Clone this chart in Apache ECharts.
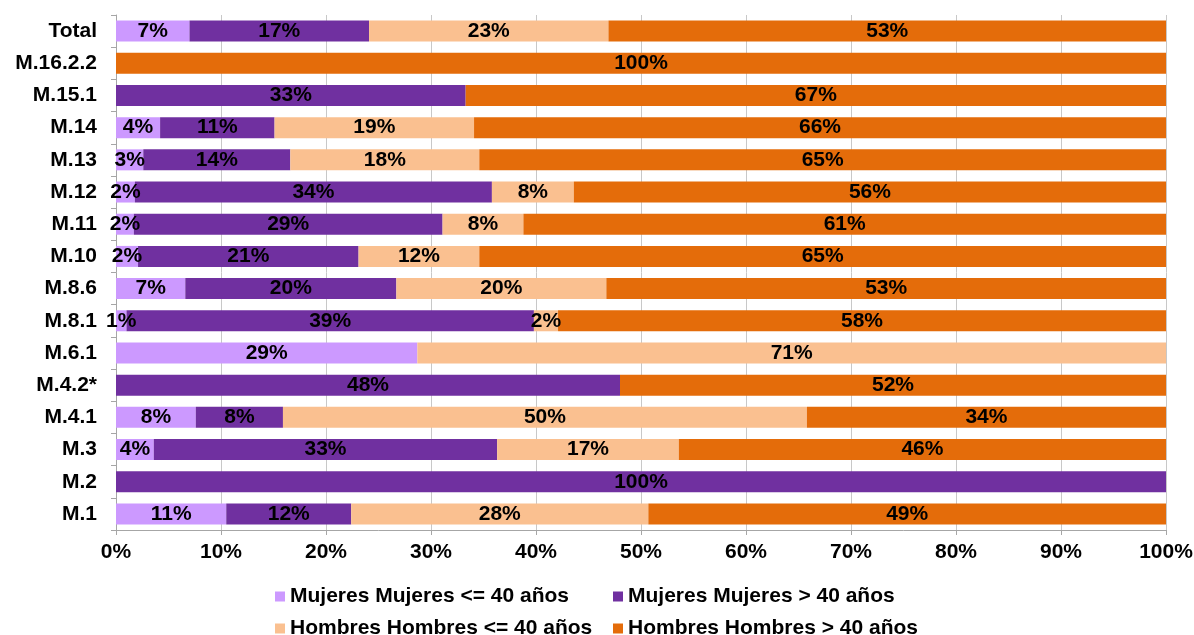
<!DOCTYPE html>
<html>
<head>
<meta charset="utf-8">
<script src="https://cdn.jsdelivr.net/npm/echarts@6/dist/echarts.min.js"></script>
<style>
  html, body { margin: 0; padding: 0; background: #fff; }
  #chart { width: 1194px; height: 635px; }
</style>
</head>
<body>
<div id="chart"></div>
<script>
// categories, bottom to top
var categories = ['M.1', 'M.2', 'M.3', 'M.4.1', 'M.4.2*', 'M.6.1', 'M.8.1', 'M.8.6',
                  'M.10', 'M.11', 'M.12', 'M.13', 'M.14', 'M.15.1', 'M.16.2.2', 'Total'];

var seriesNames = ['Mujeres Mujeres <= 40 años', 'Mujeres Mujeres > 40 años',
                   'Hombres Hombres <= 40 años', 'Hombres Hombres > 40 años'];

// shares in percent
var mujeresJovenes  = [10.5, 0,   3.6, 7.6, 0,  28.7, 1.0, 6.6, 2.1, 1.7, 1.8, 2.6, 4.2, 0,    0,   7.0];
var mujeresMayores  = [11.9, 100, 32.7, 8.3, 48, 0,   38.8, 20.1, 21.0, 29.4, 34.0, 14.0, 10.9, 33.3, 0,  17.1];
var hombresJovenes  = [28.3, 0,   17.3, 49.9, 0, 71.3, 2.3, 20.0, 11.5, 7.7, 7.8, 18.0, 19.0, 0,    0,   22.8];
var hombresMayores  = [49.3, 0,   46.4, 34.2, 52, 0,  57.9, 53.3, 65.4, 61.2, 56.4, 65.4, 65.9, 66.7, 100, 53.1];

var colors = ['#CC99FF', '#7030A0', '#FAC090', '#E46C0A'];
var values = [mujeresJovenes, mujeresMayores, hombresJovenes, hombresMayores];

var chart = echarts.init(document.getElementById('chart'));

var FONT = 'Liberation Sans, Arial, sans-serif';
var SIZE = 21;

var series = seriesNames.map(function(name, i) {
    return {
        name: name,
        type: 'bar',
        stack: 'total',
        barWidth: 21,
        data: values[i],
        itemStyle: { color: colors[i] },
        label: {
            show: true,
            position: 'inside',
            color: '#000',
            fontFamily: FONT,
            fontWeight: 'bold',
            fontSize: SIZE,
            formatter: function(p) {
                return p.value > 0 ? Math.round(p.value) + '%' : '';
            }
        }
    };
});

// one legend per entry so the two rows line up in columns
var legends = seriesNames.map(function(name, i) {
    return {
        data: [name],
        left: i % 2 === 0 ? 275 : 613,
        top: i < 2 ? 586 : 618,
        padding: 0,
        itemWidth: 10,
        itemHeight: 10,
        icon: 'rect',
        textStyle: {
            color: '#000',
            fontFamily: FONT,
            fontWeight: 'bold',
            fontSize: SIZE
        }
    };
});

var option = {
    backgroundColor: '#fff',
    animation: false,
    grid: { left: 116, right: 28, top: 15, bottom: 105, outerBoundsMode: 'none' },
    legend: legends,
    xAxis: {
        type: 'value',
        min: 0,
        max: 100,
        interval: 10,
        axisLine: { show: true, lineStyle: { color: '#a6a6a6' } },
        axisTick: { show: true, length: 5, lineStyle: { color: '#a6a6a6' } },
        splitLine: { show: true, lineStyle: { color: '#c8c8c8' } },
        axisLabel: {
            color: '#000',
            fontFamily: FONT,
            fontWeight: 'bold',
            fontSize: SIZE,
            margin: 12,
            formatter: '{value}%'
        }
    },
    yAxis: {
        type: 'category',
        data: categories,
        axisLine: { show: true, lineStyle: { color: '#a6a6a6' } },
        axisTick: { show: true, length: 5, lineStyle: { color: '#a6a6a6' } },
        axisLabel: {
            color: '#000',
            fontFamily: FONT,
            fontWeight: 'bold',
            fontSize: SIZE,
            margin: 19
        }
    },
    series: series
};

chart.setOption(option);
</script>
</body>
</html>
